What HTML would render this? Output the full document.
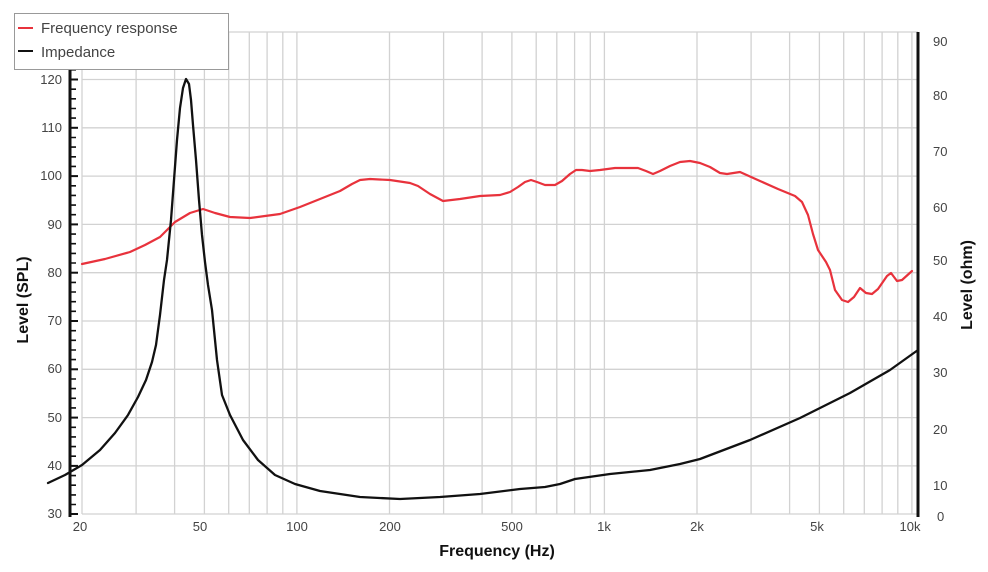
<!DOCTYPE html>
<html><head><meta charset="utf-8"><style>
html,body{margin:0;padding:0;background:#fff;}
svg{display:block;font-family:"Liberation Sans",sans-serif;}
</style></head><body>
<svg width="988" height="572" viewBox="0 0 988 572" xmlns="http://www.w3.org/2000/svg">
<g stroke="#d2d2d2" stroke-width="1.3" fill="none">
<line x1="82" y1="32" x2="918" y2="32"/>
<line x1="82" y1="79.5" x2="918" y2="79.5"/>
<line x1="82" y1="127.8" x2="918" y2="127.8"/>
<line x1="82" y1="176.1" x2="918" y2="176.1"/>
<line x1="82" y1="224.4" x2="918" y2="224.4"/>
<line x1="82" y1="272.7" x2="918" y2="272.7"/>
<line x1="82" y1="321" x2="918" y2="321"/>
<line x1="82" y1="369.3" x2="918" y2="369.3"/>
<line x1="82" y1="417.6" x2="918" y2="417.6"/>
<line x1="82" y1="465.9" x2="918" y2="465.9"/>
<line x1="82" y1="514" x2="918" y2="514"/>
<line x1="82" y1="32" x2="82" y2="514"/><line x1="136.1" y1="32" x2="136.1" y2="514"/><line x1="174.6" y1="32" x2="174.6" y2="514"/><line x1="204.4" y1="32" x2="204.4" y2="514"/><line x1="228.7" y1="32" x2="228.7" y2="514"/><line x1="249.3" y1="32" x2="249.3" y2="514"/><line x1="267.1" y1="32" x2="267.1" y2="514"/><line x1="282.8" y1="32" x2="282.8" y2="514"/><line x1="296.9" y1="32" x2="296.9" y2="514"/>
<line x1="389.5" y1="32" x2="389.5" y2="514"/><line x1="443.6" y1="32" x2="443.6" y2="514"/><line x1="482.1" y1="32" x2="482.1" y2="514"/><line x1="511.9" y1="32" x2="511.9" y2="514"/><line x1="536.2" y1="32" x2="536.2" y2="514"/><line x1="556.8" y1="32" x2="556.8" y2="514"/><line x1="574.6" y1="32" x2="574.6" y2="514"/><line x1="590.3" y1="32" x2="590.3" y2="514"/><line x1="604.4" y1="32" x2="604.4" y2="514"/>
<line x1="697" y1="32" x2="697" y2="514"/><line x1="751.1" y1="32" x2="751.1" y2="514"/><line x1="789.6" y1="32" x2="789.6" y2="514"/><line x1="819.4" y1="32" x2="819.4" y2="514"/><line x1="843.7" y1="32" x2="843.7" y2="514"/><line x1="864.3" y1="32" x2="864.3" y2="514"/><line x1="882.1" y1="32" x2="882.1" y2="514"/><line x1="897.8" y1="32" x2="897.8" y2="514"/><line x1="911.9" y1="32" x2="911.9" y2="514"/>
</g>
<line x1="70" y1="60" x2="70" y2="517" stroke="#111" stroke-width="3"/>
<g stroke="#111" stroke-width="2">
<line x1="70" y1="79.5" x2="78" y2="79.5"/><line x1="70" y1="127.8" x2="78" y2="127.8"/><line x1="70" y1="176.1" x2="78" y2="176.1"/><line x1="70" y1="224.4" x2="78" y2="224.4"/><line x1="70" y1="272.7" x2="78" y2="272.7"/><line x1="70" y1="321" x2="78" y2="321"/><line x1="70" y1="369.3" x2="78" y2="369.3"/><line x1="70" y1="417.6" x2="78" y2="417.6"/><line x1="70" y1="465.9" x2="78" y2="465.9"/><line x1="70" y1="514" x2="78" y2="514"/>
</g>
<g stroke="#111" stroke-width="1.6">
<path d="M70,89.2h6M70,98.8h6M70,108.5h6M70,118.1h6M70,137.5h6M70,147.1h6M70,156.8h6M70,166.4h6M70,185.8h6M70,195.4h6M70,205.1h6M70,214.7h6M70,234.1h6M70,243.7h6M70,253.4h6M70,263h6M70,282.4h6M70,292h6M70,301.7h6M70,311.3h6M70,330.7h6M70,340.3h6M70,350h6M70,359.6h6M70,379h6M70,388.6h6M70,398.3h6M70,407.9h6M70,427.3h6M70,436.9h6M70,446.6h6M70,456.2h6M70,475.6h6M70,485.2h6M70,494.9h6M70,504.5h6M70,69.8h6"/>
</g>
<line x1="918" y1="32" x2="918" y2="517" stroke="#111" stroke-width="3"/>
<g font-size="13" fill="#444" text-anchor="end">
<text x="62" y="84">120</text><text x="62" y="132">110</text><text x="62" y="180">100</text><text x="62" y="229">90</text><text x="62" y="277">80</text><text x="62" y="325">70</text><text x="62" y="373">60</text><text x="62" y="422">50</text><text x="62" y="470">40</text><text x="62" y="518">30</text>
</g>
<g font-size="13" fill="#444">
<text x="933" y="46">90</text><text x="933" y="100">80</text><text x="933" y="156">70</text><text x="933" y="212">60</text><text x="933" y="265">50</text><text x="933" y="321">40</text><text x="933" y="377">30</text><text x="933" y="434">20</text><text x="933" y="490">10</text><text x="937" y="521">0</text>
</g>
<g font-size="13" fill="#444" text-anchor="middle">
<text x="80" y="531">20</text><text x="200" y="531">50</text><text x="297" y="531">100</text><text x="390" y="531">200</text><text x="512" y="531">500</text><text x="604" y="531">1k</text><text x="697" y="531">2k</text><text x="817" y="531">5k</text><text x="910" y="531">10k</text>
</g>
<text x="497" y="556" font-size="16" font-weight="bold" fill="#111" text-anchor="middle">Frequency (Hz)</text>
<text transform="translate(28,300) rotate(-90)" font-size="16" font-weight="bold" fill="#111" text-anchor="middle">Level (SPL)</text>
<text transform="translate(972,285) rotate(-90)" font-size="16" font-weight="bold" fill="#111" text-anchor="middle">Level (ohm)</text>
<path fill="none" stroke="#e8323c" stroke-width="2.2" stroke-linejoin="round" stroke-linecap="round"
d="M82,264 L105,259 L130,252 L145,245 L160,237 L175,222 L190,213 L203,209 L215,213 L230,217 L250,218 L265,216 L280,214 L300,207 L320,199 L340,191 L352,184 L360,180 L370,179 L390,180 L410,183 L418,186 L430,194 L443,201 L460,199 L480,196 L500,195 L510,192 L518,187 L525,182 L531,180 L537,182 L545,185 L555,185 L562,181 L570,174 L576,170 L582,170 L590,171 L600,170 L615,168 L638,168 L646,171 L653,174 L660,171 L670,166 L680,162 L690,161 L700,163 L710,167 L720,173 L727,174 L740,172 L760,181 L778,189 L795,196 L802,202 L808,215 L813,234 L818,250 L826,262 L830,270 L835,290 L842,300 L848,302 L854,297 L860,288 L866,293 L872,294 L878,289 L887,276 L891,273 L897,281 L902,280 L912,271"/>
<path fill="none" stroke="#111" stroke-width="2.3" stroke-linejoin="round" stroke-linecap="round"
d="M48,483 L65,475 L82,465 L100,450 L115,433 L128,415 L138,397 L146,380 L152,362 L156,345 L160,315 L164,280 L167,260 L171,220 L174,180 L177,140 L180,108 L183,88 L186,79 L189,84 L191,100 L193,125 L196,160 L199,200 L202,235 L205,262 L208,285 L212,310 L217,360 L222,395 L230,415 L243,440 L258,460 L275,475 L295,484 L320,491 L360,497 L400,499 L440,497 L480,494 L520,489 L545,487 L560,484 L575,479 L610,474 L650,470 L680,464 L700,459 L750,440 L800,418 L850,393 L890,370 L918,350"/>
<rect x="14.5" y="13.5" width="214" height="56" fill="#fff" stroke="#999" stroke-width="1"/>
<line x1="18" y1="28" x2="33" y2="28" stroke="#e8323c" stroke-width="2"/>
<line x1="18" y1="51" x2="33" y2="51" stroke="#111" stroke-width="2"/>
<text x="41" y="33" font-size="15" fill="#444">Frequency response</text>
<text x="41" y="57" font-size="15" fill="#444">Impedance</text>
</svg>
</body></html>
